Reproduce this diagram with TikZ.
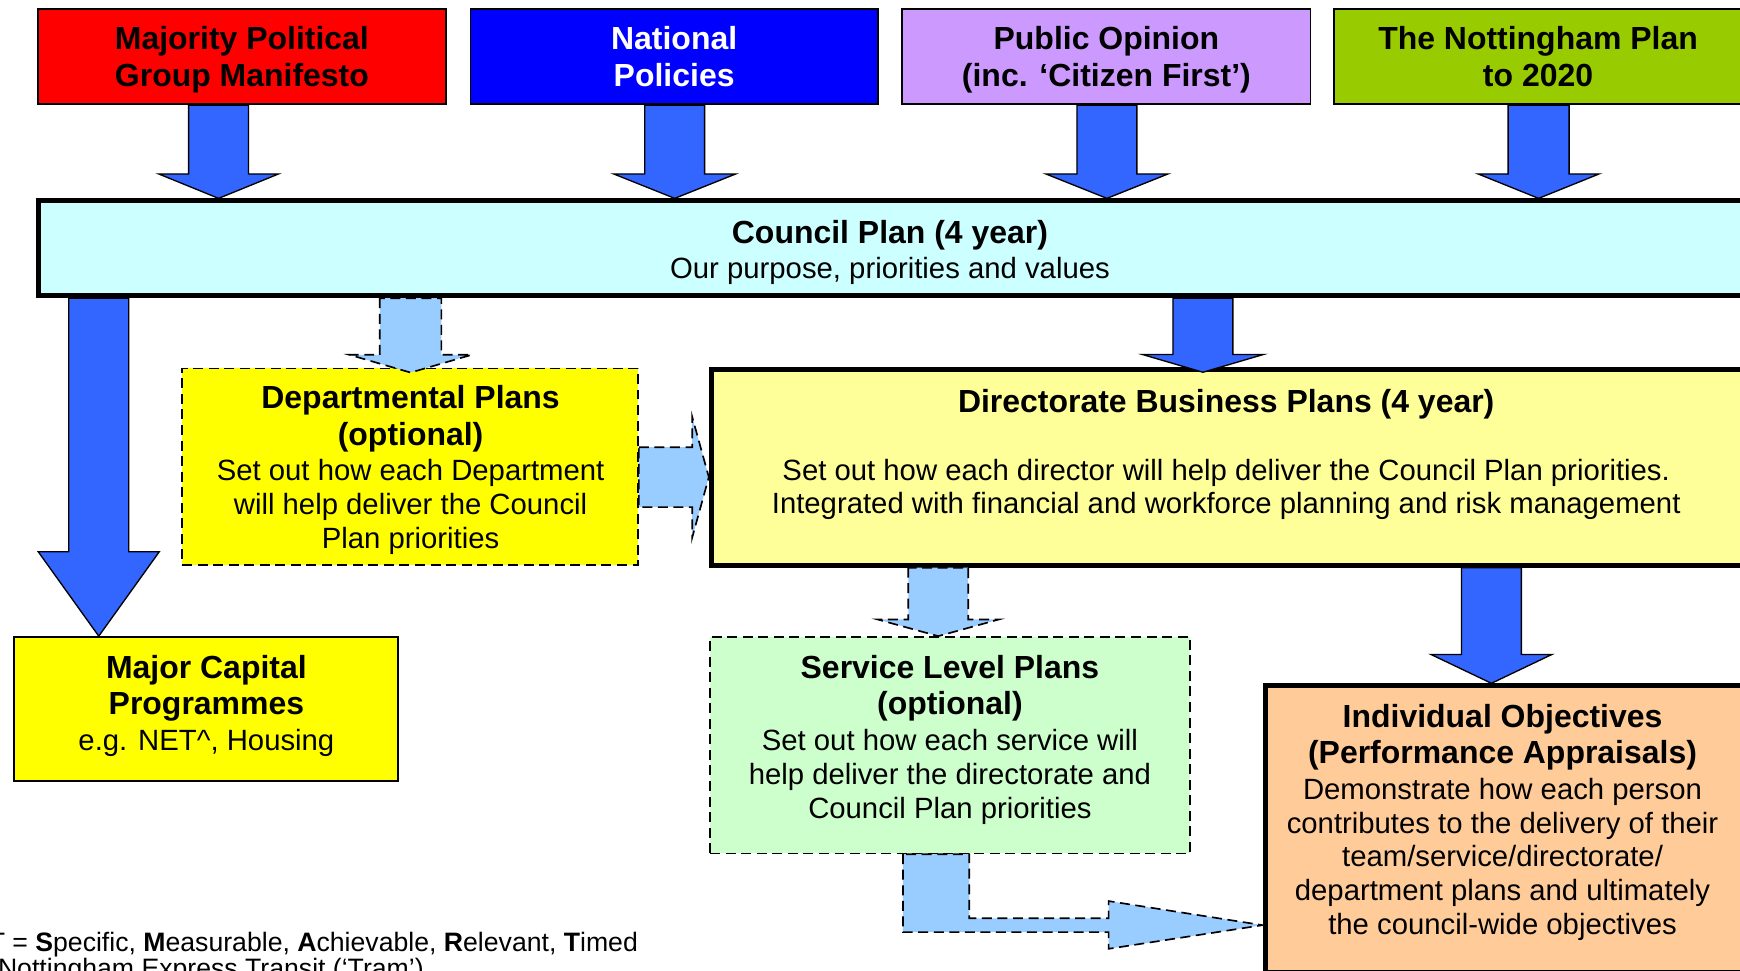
\documentclass[tikz,border=0pt]{standalone}
\usepackage{fontspec}
\setmainfont{Liberation Sans}
\usetikzlibrary{calc}
\definecolor{cred}{HTML}{FF0000}
\definecolor{cblue}{HTML}{0000FF}
\definecolor{cpurple}{HTML}{CC99FF}
\definecolor{cgreen}{HTML}{99CC00}
\definecolor{ccouncil}{HTML}{CCFFFF}
\definecolor{cyel}{HTML}{FFFF00}
\definecolor{cdir}{HTML}{FFFF99}
\definecolor{cserv}{HTML}{CCFFCC}
\definecolor{cindiv}{HTML}{FFCC99}
\definecolor{carrow}{HTML}{3366FF}
\definecolor{clight}{HTML}{99CCFF}
\newcommand{\myhb}{\fontsize{28.8}{33}\selectfont\bfseries}
\newcommand{\myhr}{\fontsize{26.4}{30.5}\selectfont\mdseries}
\newcommand{\myfn}{\fontsize{24}{23.4}\selectfont}
% #1 style, #2 x, #3 start point, #4 tip point, #5 shaft half, #6 head half, #7 head length
\newcommand{\blkdown}[7]{\draw[#1] let \p1=(#3), \p2=(#4) in (#2pt-#5pt,\y1) -- (#2pt-#5pt,\y2+#7pt) -- (#2pt-#6pt,\y2+#7pt) -- (#2pt,\y2) -- (#2pt+#6pt,\y2+#7pt) -- (#2pt+#5pt,\y2+#7pt) -- (#2pt+#5pt,\y1) -- cycle;}
% #1 style, #2 y, #3 start point, #4 tip point, #5 shaft half, #6 head half, #7 head length
\newcommand{\blkright}[7]{\draw[#1] let \p1=(#3), \p2=(#4) in (\x1,-#2pt+#5pt) -- (\x2-#7pt,-#2pt+#5pt) -- (\x2-#7pt,-#2pt+#6pt) -- (\x2,-#2pt) -- (\x2-#7pt,-#2pt-#6pt) -- (\x2-#7pt,-#2pt-#5pt) -- (\x1,-#2pt-#5pt) -- cycle;}
\begin{document}
\begin{tikzpicture}[x=1pt,y=-1pt,
  thinbox/.style={draw=black, line width=1.5pt, inner sep=0pt},
  thickbox/.style={draw=black, line width=4.5pt, inner sep=0pt},
  dashbox/.style={draw=black, line width=1.5pt, dash pattern=on 9pt off 5pt, inner sep=0pt},
  topbox/.style={thinbox, minimum width=368pt, minimum height=86pt},
  toptxt/.style={align=center, inner sep=0pt, font=\myhb},
  txt/.style={align=center, inner sep=0pt, font=\myhr},
  bluearrow/.style={fill=carrow, draw=black, line width=1.2pt, line join=miter},
  lightarrow/.style={fill=clight, draw=black, line width=1.5pt, dash pattern=on 9pt off 5pt, line join=miter}]
\useasboundingbox (0,0) rectangle (1568,875);
\clip (0,0) rectangle (1568,875);

% top sources
\node[topbox, fill=cred] (manifesto) at (218,51) {};
\node[toptxt] (manifestot) at (218,54.4) {\strut Majority Political\\\strut Group Manifesto};
\node[topbox, fill=cblue, minimum width=367pt] (national) at (607.5,51) {};
\node[toptxt, text=white] (nationalt) at (607.5,54.4) {\strut National\\\strut Policies};
\node[topbox, fill=cpurple] (opinion) at (997,51) {};
\node[toptxt] (opiniont) at (997,54.4) {\strut Public Opinion\\\strut (inc. ‘Citizen First’)};
\node[topbox, fill=cgreen] (notts) at (1386,51) {};
\node[toptxt] (nottst) at (1386,54.4) {\strut The Nottingham Plan\\\strut to 2020};

% council plan
\node[thickbox, fill=ccouncil, minimum width=1536pt, minimum height=85.5pt] (council) at (803,223.75) {};
\node[txt] (councilt) at (802,227.5) {\myhb Council Plan (4 year)\\[1.5pt]\myhr Our purpose, priorities and values};

% departmental plans
\node[dashbox, fill=cyel, minimum width=411pt, minimum height=177pt] (dept) at (369.5,420.5) {};
\node[txt] (deptt) at (370,423.5) {\myhb Departmental Plans\\[2.5pt]\myhb (optional)\\[1.5pt]\myhr Set out how each Department\\\myhr will help deliver the Council\\\myhr Plan priorities};

% major capital
\node[thinbox, fill=cyel, minimum width=346pt, minimum height=130pt] (major) at (185.5,639) {};
\node[txt] (majort) at (186,636) {\myhb Major Capital\\[2.5pt]\myhb Programmes\\[1.5pt]\myhr e.g. NET\textasciicircum, Housing};

% directorate
\node[thickbox, fill=cdir, minimum width=930pt, minimum height=176.6pt] (dir) at (1106,421) {};
\node[txt, font=\myhb] (dirt) at (1105,364) {Directorate Business Plans (4 year)};
\node[txt] (dirb) at (1105,441) {Set out how each director will help deliver the Council Plan priorities.\\\myhr Integrated with financial and workforce planning and risk management};

% service level
\node[dashbox, fill=cserv, minimum width=432.6pt, minimum height=195pt] (service) at (856.3,671.5) {};
\node[txt] (servicet) at (856,666.5) {\myhb Service Level Plans\\[2.5pt]\myhb (optional)\\[1.5pt]\myhr Set out how each service will\\\myhr help deliver the directorate and\\\myhr Council Plan priorities};

% individual
\node[thickbox, fill=cindiv, minimum width=431pt, minimum height=258pt] (indiv) at (1355.5,747) {};
\node[txt] (indivt) at (1354,741) {\myhb Individual Objectives\\[2.5pt]\myhb (Performance Appraisals)\\[1.5pt]\myhr Demonstrate how each person\\\myhr contributes to the delivery of their\\\myhr team/service/directorate/\\\myhr department plans and ultimately\\\myhr the council-wide objectives};

% footnotes
\node[anchor=base east, inner sep=0pt, font=\myfn] (smart) at (575,857) {SMART = \textbf{S}pecific, \textbf{M}easurable, \textbf{A}chievable, \textbf{R}elevant, \textbf{T}imed};
\node[anchor=base west, inner sep=0pt, font=\myfn] (net) at (-2,881) {Nottingham Express Transit (‘Tram’)};

% block arrows
\blkdown{bluearrow}{197}{manifesto.south}{council.north}{27}{54}{22}
\blkdown{bluearrow}{608}{national.south}{council.north}{27}{55}{22}
\blkdown{bluearrow}{997.5}{opinion.south}{council.north}{27}{55}{22}
\blkdown{bluearrow}{1386.5}{notts.south}{council.north}{27.5}{54.5}{22}
\blkdown{bluearrow}{89}{council.south}{major.north}{27}{54.5}{76}
\blkdown{lightarrow}{370}{council.south}{$(dept.north)+(0,4.5)$}{27.75}{55}{16}
\blkdown{bluearrow}{1084}{council.south}{$(dir.north)+(0,5)$}{27}{54.5}{16}
\blkdown{lightarrow}{845.5}{dir.south}{service.north}{27}{54.5}{15}
\blkdown{bluearrow}{1344}{dir.south}{indiv.north}{27}{54.5}{26}
\blkright{lightarrow}{430}{dept.east}{dir.west}{27}{54.5}{15}
\draw[lightarrow] let \p1=(service.south), \p2=(indiv.west) in
  (813.7pt,\y1) -- (813.7pt,-840pt) -- (999pt,-840pt) -- (999pt,-855pt) -- (\x2,-833.7pt)
  -- (999pt,-812pt) -- (999pt,-827.5pt) -- (873.5pt,-827.5pt) -- (873.5pt,\y1) -- cycle;
\end{tikzpicture}
\end{document}
